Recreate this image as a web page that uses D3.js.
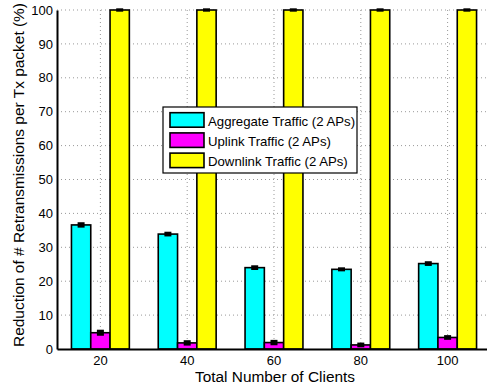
<!DOCTYPE html>
<html>
<head>
<meta charset="utf-8">
<script src="https://cdn.jsdelivr.net/npm/d3@7"></script>
<style>
  html, body { margin: 0; padding: 0; background: #fff; }
  svg { display: block; font-family: "Liberation Sans", Arial, Helvetica, sans-serif; }
</style>
</head>
<body>
<svg id="chart" width="487" height="387"></svg>
<script>
// Number of clients on the x axis
const clients = ["20", "40", "60", "80", "100"];
const seriesNames = ["Aggregate Traffic (2 APs)", "Uplink Traffic (2 APs)", "Downlink Traffic (2 APs)"];
const seriesColors = ["#00ffff", "#ff00ff", "#ffff00"];
// Mean reduction (%) per series, one value per client count
const aggregateValues = [36.6, 33.9, 24.0, 23.5, 25.2];
const uplinkValues = [4.8, 1.8, 1.9, 1.2, 3.4];
const downlinkValues = [100, 100, 100, 100, 100];
// Half-width of the error bars (%)
const aggregateErr = [0.5, 0.4, 0.4, 0.3, 0.4];
const uplinkErr = [0.6, 0.5, 0.5, 0.4, 0.4];
const downlinkErr = [0.2, 0.2, 0.2, 0.2, 0.2];
const yTicks = [0, 10, 20, 30, 40, 50, 60, 70, 80, 90, 100];

const series = [
  { name: seriesNames[0], color: seriesColors[0], values: aggregateValues, err: aggregateErr },
  { name: seriesNames[1], color: seriesColors[1], values: uplinkValues, err: uplinkErr },
  { name: seriesNames[2], color: seriesColors[2], values: downlinkValues, err: downlinkErr }
];

const svg = d3.select("#chart");
const plot = { left: 57, top: 10, bottom: 349, right: 491 };

const x = d3.scaleBand().domain(clients).range([plot.left, plot.right]).paddingInner(0).paddingOuter(0);
const y = d3.scaleLinear().domain([0, 100]).range([plot.bottom, plot.top]);
const barW = 19.3;
const offsets = [-1, 0, 1];
const cx = c => x(c) + x.bandwidth() / 2;

// Dotted grid
const grid = svg.append("g");
grid.selectAll("line.hy").data(yTicks.filter(t => t > 0)).join("line")
  .attr("x1", plot.left).attr("x2", plot.right)
  .attr("y1", d => y(d)).attr("y2", d => y(d))
  .attr("stroke", "#999").attr("stroke-width", 1).attr("stroke-dasharray", "1,3");
grid.selectAll("line.vx").data(clients).join("line")
  .attr("x1", d => cx(d)).attr("x2", d => cx(d))
  .attr("y1", plot.top).attr("y2", plot.bottom)
  .attr("stroke", "#999").attr("stroke-width", 1).attr("stroke-dasharray", "1,3");

// Bars
series.forEach((s, si) => {
  const g = svg.append("g");
  g.selectAll("rect").data(clients).join("rect")
    .attr("x", (c) => cx(c) + offsets[si] * barW - barW / 2)
    .attr("y", (c, i) => y(s.values[i]))
    .attr("width", barW)
    .attr("height", (c, i) => y(0) - y(s.values[i]))
    .attr("fill", s.color).attr("stroke", "#000").attr("stroke-width", 1.6);
  // error bars
  g.selectAll("g.err").data(clients).join("g").each(function (c, i) {
    const ex = cx(c) + offsets[si] * barW;
    const hi = y(s.values[i] + s.err[i]), lo = y(s.values[i] - s.err[i]);
    const e = d3.select(this);
    e.append("line").attr("x1", ex).attr("x2", ex).attr("y1", hi).attr("y2", lo)
      .attr("stroke", "#000").attr("stroke-width", 1.2);
    e.append("rect").attr("x", ex - 3.5).attr("y", Math.min(hi, lo) - 1)
      .attr("width", 7).attr("height", Math.abs(lo - hi) + 2).attr("fill", "#000");
  });
});

// Axes
const yAxis = d3.axisLeft(y).tickValues(yTicks).tickSize(0).tickPadding(4);
const yg = svg.append("g").attr("transform", `translate(${plot.left},0)`).call(yAxis);
yg.select(".domain").attr("stroke", "#000").attr("stroke-width", 2);
yg.selectAll("text").attr("font-size", 13).attr("fill", "#000").attr("font-family", "Liberation Sans, Arial, sans-serif");

const xAxis = d3.axisBottom(x).tickSize(0).tickPadding(7);
const xg = svg.append("g").attr("transform", `translate(0,${plot.bottom})`).call(xAxis);
xg.select(".domain").attr("stroke", "#000").attr("stroke-width", 2);
xg.selectAll("text").attr("font-size", 13).attr("fill", "#000").attr("font-family", "Liberation Sans, Arial, sans-serif");

// Axis titles
svg.append("text").attr("x", 275).attr("y", 382)
  .attr("text-anchor", "middle").attr("font-size", 15.4).text("Total Number of Clients");
svg.append("text").attr("transform", `translate(24,${175}) rotate(-90)`)
  .attr("text-anchor", "middle").attr("font-size", 15.4)
  .attr("textLength", 344).attr("lengthAdjust", "spacingAndGlyphs")
  .text("Reduction of # Retransmissions per Tx packet (%)");

// Legend
const lg = svg.append("g").attr("transform", "translate(163,107)");
lg.append("rect").attr("x", 0).attr("y", 0).attr("width", 194).attr("height", 66)
  .attr("fill", "#fff").attr("stroke", "#000").attr("stroke-width", 1.2);
series.forEach((s, i) => {
  const ry = 5.7 + i * 20.2;
  lg.append("rect").attr("x", 7).attr("y", ry).attr("width", 34).attr("height", 14.5)
    .attr("fill", s.color).attr("stroke", "#000").attr("stroke-width", 1.6);
  lg.append("text").attr("x", 45).attr("y", ry + 13).attr("font-size", 13.2).text(s.name);
});
</script>
</body>
</html>
